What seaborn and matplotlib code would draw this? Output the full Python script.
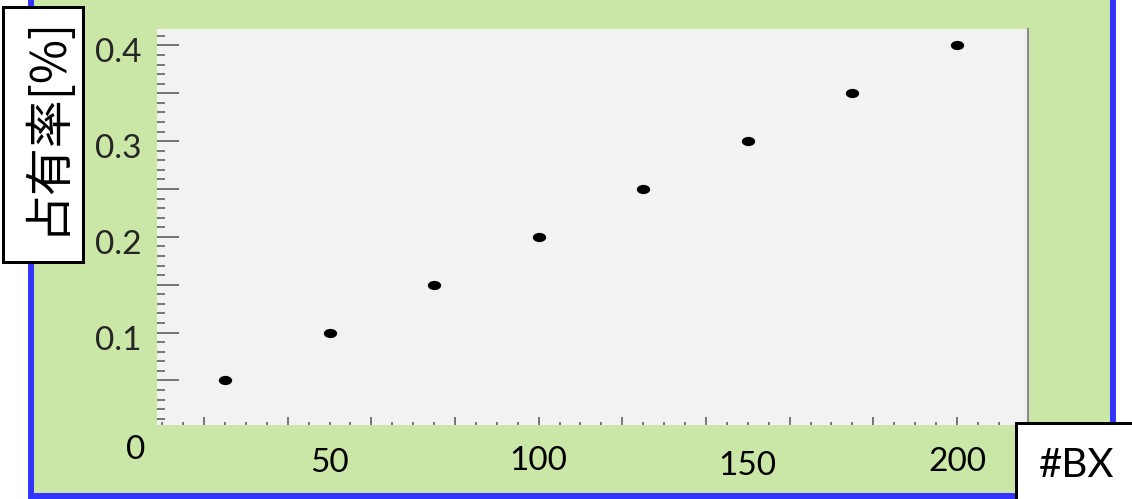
import matplotlib
matplotlib.use("Agg")
import matplotlib.pyplot as plt
import seaborn as sns
from matplotlib.patches import Rectangle
from matplotlib.markers import MarkerStyle
from matplotlib.transforms import Affine2D, ScaledTranslation
from matplotlib.ticker import MultipleLocator, FuncFormatter

# Occupancy vs. number of bunch crossings
bx = [25, 50, 75, 100, 125, 150, 175, 200]
occupancy = [0.05, 0.10, 0.15, 0.20, 0.25, 0.30, 0.35, 0.40]
x_tick_labels = [50, 100, 150, 200]
x_title = "#BX"
y_title = "占有率[%]"

W, H = 1132, 499
DPI = 100
TICK_FS = 24

sns.set_style("white")
plt.rcParams["font.family"] = ["Lato", "DejaVu Sans"]

fig = plt.figure(figsize=(W / DPI, H / DPI), dpi=DPI)
fig.patch.set_facecolor("white")


def fig_rect(x0, y0, x1, y1):
    """Pixel box (top-left origin) -> figure-fraction (x, y, w, h)."""
    return x0 / W, 1 - y1 / H, (x1 - x0) / W, (y1 - y0) / H


def pt(px):
    return px * 72 / DPI


# green canvas with blue frame
gx, gy, gw, gh = fig_rect(31, -20, 1113, 496)
fig.add_artist(Rectangle((gx, gy), gw, gh, transform=fig.transFigure,
                         facecolor="#cbe7a7", edgecolor="#3333ff",
                         linewidth=pt(6), zorder=-5))

# plotting frame
ax = fig.add_axes(fig_rect(157, 29, 1028, 425))
ax.set_facecolor("#f2f2f2")

marker = MarkerStyle("o", transform=Affine2D().scale(1.45, 1.0))
sns.scatterplot(x=bx, y=occupancy, ax=ax, marker=marker, s=44,
                color="black", edgecolor="black", linewidth=0,
                legend=False, zorder=3)

ax.set_xlim(8.75, 217.0)
ax.set_ylim(0.0034, 0.4172)
ax.set_xlabel("")
ax.set_ylabel("")

for side in ("top", "left", "bottom"):
    ax.spines[side].set_visible(False)
ax.spines["right"].set_color("#8c8c8c")
ax.spines["right"].set_linewidth(1.5)

# y axis: long ticks every 0.05, short every 0.01, labels on tenths
ax.yaxis.set_major_locator(MultipleLocator(0.05))
ax.yaxis.set_minor_locator(MultipleLocator(0.01))


def tenth_label(v, _pos):
    k = round(v * 20)
    return f"{v:.1f}" if k % 2 == 0 and k > 0 else ""


ax.yaxis.set_major_formatter(FuncFormatter(tenth_label))
ax.tick_params(axis="y", which="major", direction="in", length=pt(22),
               width=1.1, color="#555555", labelsize=TICK_FS, pad=pt(15),
               left=True, right=False)
ax.tick_params(axis="y", which="minor", direction="in", length=pt(8),
               width=1.1, color="#555555", left=True, right=False)

# x axis: ticks every 20 with minors every 5, labels drawn separately
ax.xaxis.set_major_locator(MultipleLocator(20))
ax.xaxis.set_minor_locator(MultipleLocator(5))
ax.tick_params(axis="x", which="major", direction="in", length=pt(8),
               width=1.1, color="#555555", bottom=True, top=False,
               labelbottom=False)
ax.tick_params(axis="x", which="minor", direction="in", length=pt(3),
               width=1.1, color="#555555", bottom=True, top=False)

# nudge the y tick labels slightly below their ticks
shift = ScaledTranslation(0, -5 / DPI, fig.dpi_scale_trans)
for lab in ax.get_yticklabels():
    lab.set_transform(lab.get_transform() + shift)

# x tick labels hanging under the frame (baseline offsets in px)
x_baseline_px = [47, 45, 50, 46]
for v, b in zip(x_tick_labels, x_baseline_px):
    tr = ax.get_xaxis_transform() + ScaledTranslation(0, -b / DPI, fig.dpi_scale_trans)
    ax.text(v, 0, str(v), transform=tr, ha="center", va="baseline",
            fontsize=TICK_FS, color="black")

# origin label
tr0 = ax.get_yaxis_transform() + ScaledTranslation(-12 / DPI, -31 / DPI, fig.dpi_scale_trans)
ax.text(0, 0, "0", transform=tr0, ha="right", va="baseline", fontsize=TICK_FS,
        color="black")

# y title in a boxed label
bx0, by0, bw, bh = fig_rect(3, 7, 83, 262)
fig.add_artist(Rectangle((bx0, by0), bw, bh, transform=fig.transFigure,
                         facecolor="white", edgecolor="black",
                         linewidth=pt(3), zorder=5))
fig.text(46 / W, 1 - 125 / H, y_title, rotation=90, ha="center", va="center",
         fontsize=34.5, family=["Noto Sans CJK JP", "DejaVu Sans"],
         color="black", zorder=6)

# x title in a boxed label
cx0, cy0, cw, ch = fig_rect(1016, 423, 1145, 515)
fig.add_artist(Rectangle((cx0, cy0), cw, ch, transform=fig.transFigure,
                         facecolor="white", edgecolor="black",
                         linewidth=pt(3), zorder=5))
fig.text(1077 / W, 1 - 477 / H, x_title, ha="center", va="baseline",
         fontsize=29, color="black", zorder=6)

fig.savefig("out.png", dpi=DPI)
